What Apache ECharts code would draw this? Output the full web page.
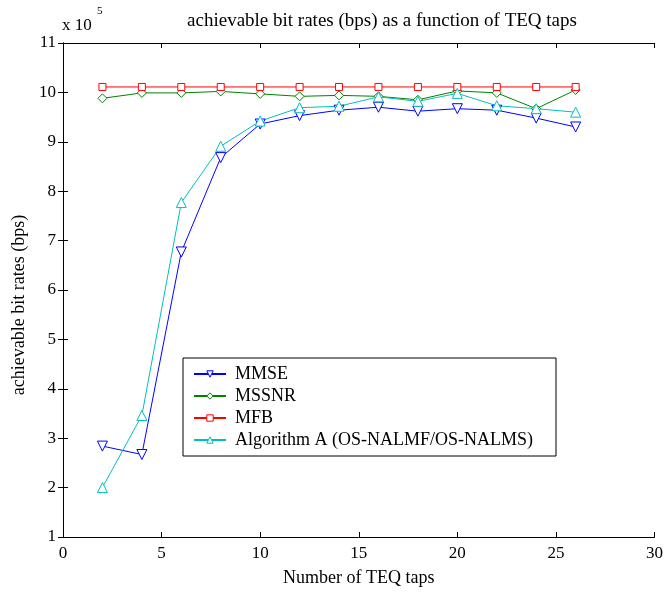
<!DOCTYPE html>
<html>
<head>
<meta charset="utf-8">
<script src="https://cdn.jsdelivr.net/npm/echarts@6/dist/echarts.min.js"></script>
<style>
  html, body { margin: 0; padding: 0; background: #fff; }
  #chart { width: 666px; height: 594px; }
</style>
</head>
<body>
<div id="chart"></div>
<script>
// number of TEQ taps
var taps = [2, 4, 6, 8, 10, 12, 14, 16, 18, 20, 22, 24, 26];
// achievable bit rates, in units of 10^5 bps
var mmse = [2.84, 2.67, 6.77, 8.68, 9.36, 9.53, 9.64, 9.70, 9.62, 9.67, 9.64, 9.48, 9.30];
var mssnr = [9.88, 9.99, 9.99, 10.02, 9.97, 9.92, 9.94, 9.92, 9.85, 10.03, 9.99, 9.67, 10.05];
var mfb = [10.11, 10.11, 10.11, 10.11, 10.11, 10.11, 10.11, 10.11, 10.11, 10.11, 10.11, 10.11, 10.11];
var algA = [2.0, 3.46, 7.77, 8.91, 9.42, 9.69, 9.72, 9.91, 9.82, 9.98, 9.73, 9.67, 9.60];

function pairs(ys) {
  return taps.map(function (x, i) { return [x, ys[i]]; });
}

var font = 'Liberation Serif';
var chart = echarts.init(document.getElementById('chart'));

function series(name, data, color, symbol, size, rotate) {
  return {
    name: name,
    type: 'line',
    data: pairs(data),
    symbol: symbol,
    symbolSize: size,
    symbolRotate: rotate || 0,
    lineStyle: { color: color, width: 1 },
    itemStyle: { color: '#fff', borderColor: color, borderWidth: 1 },
    emphasis: { disabled: true },
    animation: false
  };
}

var option = {
  animation: false,
  title: {
    text: 'achievable bit rates (bps) as a function of TEQ taps',
    left: 377,
    textAlign: 'center',
    top: 7,
    textStyle: { fontFamily: font, fontSize: 19, fontWeight: 'normal', color: '#000' }
  },
  graphic: [
    { type: 'text', left: 62, top: 17, style: { text: 'x 10', font: '17px "Liberation Serif"', fill: '#000' } },
    { type: 'text', left: 97, top: 6, style: { text: '5', font: '11px "Liberation Serif"', fill: '#000' } }
  ],
  legend: {
    left: 183,
    top: 358,
    orient: 'vertical',
    itemWidth: 32,
    itemHeight: 8,
    itemGap: 4,
    padding: [7, 23, 7, 10],
    borderColor: '#000',
    borderWidth: 1,
    backgroundColor: '#fff',
    itemStyle: { color: '#fff', borderWidth: 1 },
    textStyle: { fontFamily: font, fontSize: 18, color: '#000', padding: [0, 0, 0, 4] },
    data: ['MMSE', 'MSSNR', 'MFB', 'Algorithm A (OS-NALMF/OS-NALMS)']
  },
  grid: { left: 63, right: 10, top: 43, bottom: 57 },
  xAxis: [{
    type: 'value',
    min: 0, max: 30, interval: 5,
    name: 'Number of TEQ taps',
    nameLocation: 'middle',
    nameGap: 32,
    nameTextStyle: { fontFamily: font, fontSize: 18, color: '#000' },
    axisLine: { lineStyle: { color: '#000' } },
    axisTick: { inside: true, length: 5, lineStyle: { color: '#000' } },
    axisLabel: { fontFamily: font, fontSize: 17, color: '#000', margin: 8 },
    splitLine: { show: false }
  }, {
    type: 'value',
    position: 'top',
    min: 0, max: 30, interval: 5,
    axisLine: { show: true, lineStyle: { color: '#000' } },
    axisTick: { inside: true, length: 5, lineStyle: { color: '#000' } },
    axisLabel: { show: false },
    splitLine: { show: false }
  }],
  yAxis: [{
    type: 'value',
    min: 1, max: 11, interval: 1,
    name: 'achievable bit rates (bps)',
    nameLocation: 'middle',
    nameGap: 31,
    nameTextStyle: { fontFamily: font, fontSize: 18, color: '#000', padding: [0, 30, 0, 0] },
    axisLine: { show: true, lineStyle: { color: '#000' } },
    axisTick: { inside: true, length: 5, lineStyle: { color: '#000' } },
    axisLabel: { fontFamily: font, fontSize: 17, color: '#000', margin: 7 },
    splitLine: { show: false }
  }, {
    type: 'value',
    position: 'right',
    min: 1, max: 11, interval: 1,
    axisLine: { show: true, lineStyle: { color: '#000' } },
    axisTick: { inside: true, length: 5, lineStyle: { color: '#000' } },
    axisLabel: { show: false },
    splitLine: { show: false }
  }],
  series: [
    series('MMSE', mmse, '#0000ff', 'triangle', 10, 180),
    series('MSSNR', mssnr, '#008000', 'diamond', 9),
    series('MFB', mfb, '#ff0000', 'rect', 7),
    series('Algorithm A (OS-NALMF/OS-NALMS)', algA, '#00bfbf', 'triangle', 10)
  ]
};

chart.setOption(option);
window.addEventListener('resize', chart.resize);
</script>
</body>
</html>
